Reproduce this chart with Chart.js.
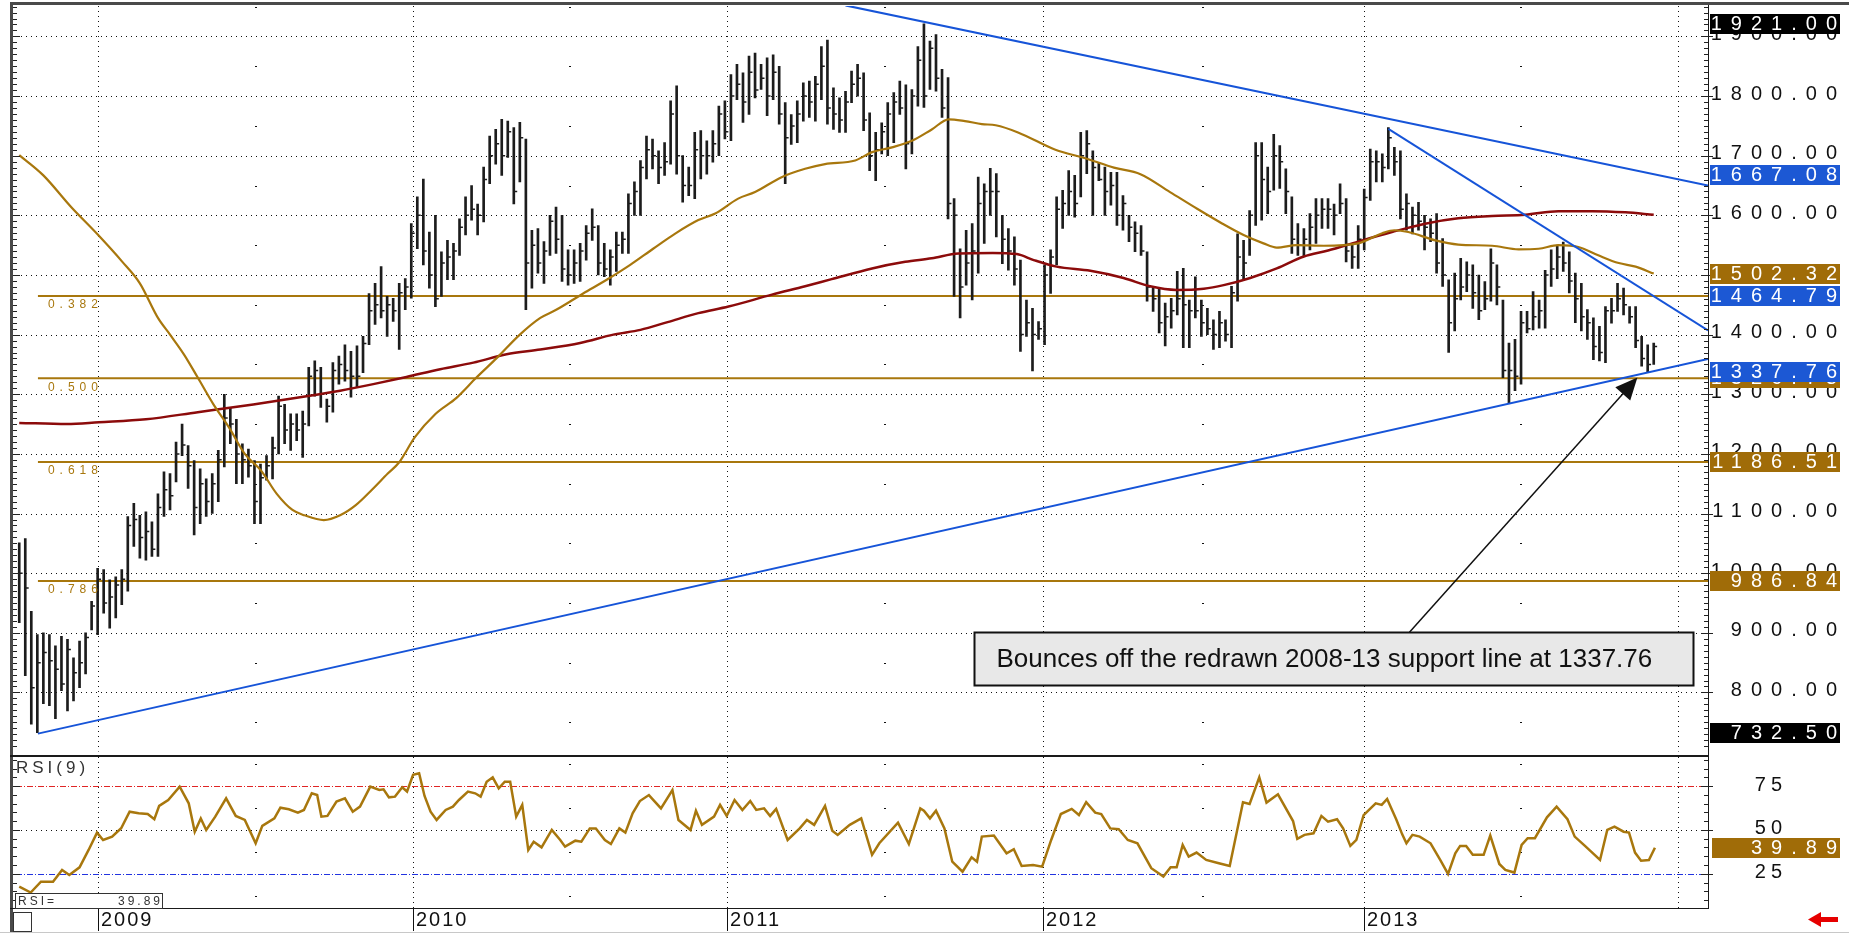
<!DOCTYPE html>
<html>
<head>
<meta charset="utf-8">
<title>Gold weekly</title>
<script src="https://cdn.jsdelivr.net/npm/chart.js@4.4.0/dist/chart.umd.min.js"></script>
<style>
html, body { margin: 0; padding: 0; background: #fff; }
#wrap { position: relative; width: 1849px; height: 935px; overflow: hidden; background: #fff; }
#main { position: absolute; left: 0; top: 0; }
#rsi { position: absolute; left: 0; top: 757px; }
</style>
</head>
<body>
<div id="wrap">
  <canvas id="main" width="1849" height="757"></canvas>
  <canvas id="rsi" width="1849" height="178"></canvas>
</div>
<script>
// weekly bars, index 0 = first week on the chart
const highs = [
  1051,1058,936,897,900,897,878,894,889,858,
  886,900,953,1008,1006,989,994,1006,1095,1117,
  1097,1103,1086,1133,1170,1167,1220,1250,1214,1189,
  1175,1158,1167,1206,1300,1278,1258,1217,1208,1189,
  1183,1197,1228,1297,1283,1267,1267,1272,1345,1356,
  1345,1292,1353,1364,1383,1372,1381,1397,1469,1486,
  1514,1464,1461,1486,1494,1586,1631,1661,1572,1600,
  1539,1558,1553,1594,1631,1650,1619,1681,1733,1744,
  1761,1758,1747,1756,1728,1575,1578,1556,1600,1614,
  1600,1542,1542,1553,1583,1611,1583,1553,1542,1572,
  1572,1636,1656,1692,1733,1728,1708,1722,1792,1817,
  1700,1681,1739,1742,1725,1742,1783,1792,1836,1853,
  1839,1867,1872,1853,1864,1869,1850,1789,1769,1792,
  1822,1825,1833,1883,1894,1814,1797,1808,1842,1853,
  1839,1772,1739,1755,1789,1806,1825,1819,1811,1883,
  1921,1892,1903,1845,1831,1628,1544,1575,1586,1664,
  1653,1679,1670,1600,1578,1564,1525,1458,1444,1422,
  1517,1542,1631,1642,1675,1667,1739,1742,1708,1689,
  1681,1672,1672,1633,1600,1589,1583,1539,1481,1478,
  1453,1461,1506,1511,1458,1497,1458,1444,1425,1439,
  1425,1481,1569,1558,1608,1722,1722,1681,1736,1717,
  1678,1631,1586,1578,1603,1628,1628,1628,1619,1653,
  1628,1553,1583,1644,1711,1708,1703,1747,1714,1708,
  1636,1614,1622,1600,1594,1603,1561,1492,1503,1528,
  1522,1517,1500,1489,1544,1517,1458,1386,1392,1439,
  1439,1472,1458,1508,1542,1550,1555,1539,1503,1486,
  1442,1428,1414,1447,1461,1486,1478,1447,1447,1397,
  1383,1386
];
const lows = [
  917,828,747,732.5,781,778,756,803,769,786,
  808,831,905,897,933,908,925,947,970,1045,
  1025,1022,1028,1028,1095,1106,1153,1197,1142,1064,
  1083,1095,1100,1120,1178,1217,1150,1150,1161,1083,
  1083,1156,1158,1200,1217,1206,1222,1194,1247,1297,
  1278,1253,1270,1317,1322,1295,1311,1336,1383,1417,
  1428,1397,1422,1375,1442,1461,1544,1517,1478,1447,
  1464,1492,1492,1533,1567,1592,1567,1589,1653,1686,
  1667,1697,1619,1656,1442,1478,1503,1486,1533,1536,
  1489,1483,1486,1489,1525,1558,1500,1497,1483,1506,
  1536,1536,1600,1600,1661,1678,1653,1667,1686,1669,
  1622,1633,1628,1661,1669,1689,1700,1728,1725,1794,
  1756,1769,1797,1811,1767,1794,1753,1653,1719,1722,
  1758,1764,1758,1794,1753,1744,1739,1739,1789,1800,
  1742,1675,1658,1703,1700,1722,1769,1678,1703,1783,
  1781,1811,1808,1764,1594,1464,1428,1483,1458,1503,
  1553,1600,1564,1519,1508,1483,1372,1397,1339,1392,
  1383,1469,1517,1578,1600,1597,1631,1670,1600,1658,
  1600,1617,1583,1575,1556,1539,1533,1456,1439,1403,
  1381,1411,1433,1378,1378,1428,1397,1400,1375,1378,
  1389,1378,1456,1492,1533,1583,1592,1603,1642,1645,
  1603,1536,1533,1531,1542,1553,1578,1578,1567,1603,
  1522,1511,1511,1542,1625,1656,1656,1678,1667,1594,
  1575,1569,1575,1542,1556,1503,1481,1370,1406,1458,
  1472,1444,1425,1442,1456,1450,1328,1286,1306,1317,
  1403,1408,1411,1411,1481,1494,1506,1470,1420,1406,
  1392,1358,1356,1353,1419,1439,1433,1419,1378,1347,
  1336,1350
];
const closes = [
  1000,975,808,850,867,853,839,814,872,833,
  850,892,945,990,950,960,980,990,1080,1090,
  1060,1070,1040,1110,1140,1130,1200,1215,1180,1110,
  1150,1120,1150,1190,1260,1250,1200,1190,1180,1120,
  1160,1180,1210,1280,1240,1250,1240,1250,1330,1340,
  1300,1280,1340,1350,1340,1330,1330,1385,1440,1450,
  1440,1450,1440,1470,1480,1570,1600,1540,1500,1460,
  1520,1530,1540,1580,1600,1610,1600,1660,1700,1720,
  1700,1740,1640,1730,1520,1550,1520,1540,1590,1560,
  1510,1500,1520,1540,1570,1580,1520,1510,1530,1550,
  1560,1620,1640,1680,1710,1700,1680,1690,1770,1700,
  1650,1650,1710,1700,1700,1720,1770,1740,1800,1820,
  1790,1840,1810,1830,1800,1840,1770,1730,1750,1770,
  1800,1790,1820,1850,1780,1770,1760,1790,1820,1830,
  1760,1700,1710,1740,1770,1790,1780,1720,1800,1860,
  1800,1880,1830,1780,1620,1600,1480,1520,1540,1620,
  1640,1640,1640,1560,1540,1510,1400,1420,1400,1410,
  1500,1530,1610,1620,1640,1620,1700,1720,1680,1660,
  1640,1650,1600,1620,1580,1570,1540,1480,1460,1420,
  1430,1440,1460,1450,1440,1440,1420,1410,1400,1420,
  1400,1470,1530,1520,1600,1700,1660,1640,1700,1690,
  1640,1560,1550,1560,1580,1600,1610,1610,1600,1620,
  1540,1530,1560,1630,1690,1690,1680,1730,1690,1610,
  1620,1600,1590,1580,1570,1520,1500,1420,1460,1480,
  1500,1470,1440,1460,1520,1480,1340,1340,1330,1420,
  1410,1430,1440,1500,1510,1530,1520,1490,1460,1430,
  1420,1380,1370,1440,1440,1460,1450,1430,1390,1360,
  1350,1380
];

// moving averages (week index, value)
const goldWeeks = [0,4,8.6,12.9,17.1,20,23,25,27.3,29.6,32.2,34.8,37.4,40.1,42.7,45.3,47.3,50.5,53.2,55.8,
  58.4,61.1,63,65.6,69,72.5,75.8,79.2,83,86.4,89.1,93.5,97.4,101.3,105.1,108.7,112.6,115.4,119.2,122,
  126.4,130.3,133.6,138.6,141.4,144.7,148,151.3,154.1,156.8,159.6,161.9,165.6,171.8,177,181.5,185.9,190.8,195.3,199.5,
  203,206.3,208.5,211.8,216.3,222,226,228,230.3,234.8,238.6,244.2,248.6,251.9,255.2,258.5,261.8,265.2,268,271];
const goldValues = [1701,1667,1614,1569,1522,1486,1428,1400,1367,1328,1283,1244,1200,1172,1133,1106,1097,1089,1097,1114,
  1139,1167,1186,1228,1267,1294,1328,1361,1400,1428,1442,1469,1492,1517,1544,1569,1592,1603,1628,1639,
  1664,1678,1686,1692,1706,1714,1725,1744,1761,1758,1753,1751,1739,1710,1695,1680,1669,1639,1611,1586,
  1567,1553,1546,1550,1549,1553,1570,1575,1572,1558,1551,1549,1543,1544,1550,1547,1533,1520,1514,1502.32];
const redWeeks = [0,7.9,13.2,21,29.6,38.8,47.9,53.2,58.7,64.2,69.8,75.3,80.8,86.4,93,98.5,103,107.5,112.6,117.6,
  124.8,130.3,134.7,141.4,146.9,151.3,155.7,161.4,165.4,168.2,172,177.6,183.1,187.5,191.9,196.4,199.7,204.1,208.5,213,
  217,222,227.6,233.1,238.6,244.2,249.7,255.2,260.8,266.3,271];
const redValues = [1252,1250,1253,1258,1270,1283,1297,1306,1317,1329,1342,1353,1367,1375,1386,1400,1408,1421,1436,1447,
  1467,1481,1493,1511,1522,1528,1536,1537,1535,1525,1514,1507,1495,1481,1475,1477,1483,1495,1511,1531,
  1541,1556,1572,1586,1595,1599,1601,1607,1607,1605,1601];

// RSI(9)
const rsiWeeks = [0,1.9,3.6,5.6,7.1,8.3,10,11.5,12.9,13.9,15.4,16.9,18.3,19.8,21.3,22.4,23.2,24.7,26.6,28.1,
  29.1,30.1,31,32.5,34.3,35.9,37.4,39.2,40.3,42.3,43.3,44.7,46.2,47.2,48.5,49.4,50.1,51.1,52.6,54,
  55.3,56.5,58.2,59.7,60.4,61.3,62.3,63.5,64.3,65.3,66.3,67.2,68.2,69.2,70.7,71.9,72.9,74.4,75.6,76.5,
  77.5,78.5,79.5,80.5,81.4,82.4,83.4,84.4,85.3,86.6,88.3,89.7,90.5,92.2,93.2,94.6,95.6,97.1,98.1,99.5,
  100.5,101.7,102.9,104.4,106.4,108.3,109.3,111.3,112.2,113.2,115.2,116.2,117.3,118.6,119.9,121.2,122.2,123.5,124.5,125.5,
  127.4,129.4,130.6,131.8,133.6,134.8,135.7,137.7,139.6,141.4,142.6,145.7,147.5,149.4,
  150,151,152,153.4,154.7,156.4,157.9,158.8,159.6,161.6,163.7,164.9,166.2,168.1,169.6,171.1,172.7,174.5,175.7,176.9,
  178.4,179.4,180.9,182.3,183.8,185.4,187.7,189.7,190.9,191.9,192.9,193.9,195.2,196.8,198.9,200.7,202.9,204,205.6,206.8,
  208.7,211.2,211.9,213.1,214.6,215.9,217,218.5,219.5,220.7,221.7,222.9,224.9,225.9,226.8,228.3,229.3,230,231,232.2,
  234,235.6,236.9,238.1,238.9,239.9,241,242.8,243.9,245.4,246.4,247.9,249.1,250.1,251.3,253.3,254.9,256.7,257.9,259.6,
  262.1,263.3,264.5,266,266.9,267.9,268.9,270.2,271.2];
const rsiValues = [17.7,14.3,20.5,20.5,27.2,24.3,28.7,38.6,48.5,44.3,46.2,51,60.4,59.5,59.1,56.1,63.7,67.1,74.7,65.2,
  49,56.6,50,57.6,68,58,55.7,42.4,52.3,56.6,62.7,61.8,59.9,61.4,70.9,69.9,57.6,58,66.2,68,
  60.4,63.3,74.7,72.8,73.2,68.6,69,74.3,71.9,81.4,82.3,69.4,60.4,55.7,61.4,63.3,67.1,71.9,70.9,69,
  77.5,80,73.7,77.5,77.5,57.6,64.3,38.6,43.3,40.1,50,44.3,40.5,43.9,43.3,50.9,50.9,44.3,42,50.9,
  48.5,59.5,66.5,69.9,62.3,72.8,55.7,50,61,52.9,57.6,64.3,58,67.1,61.4,66.5,61.4,62.3,58,62,
  44.3,50.9,55.7,52.9,63.7,49.6,47.2,52.9,56.6,35.8,42.4,54.2,42,62.3,
  61,56.6,61,50.9,31.9,26.2,34.4,31.9,46.2,46.8,36.7,39,29.5,30,29.1,44.3,59.1,62,58.5,65.8,
  59.9,59.1,50.9,50.4,44.3,42.4,28.2,23.4,28.7,28.7,41.5,34.8,37.1,32.9,31,29.5,65.8,64.8,80,65.6,
  70.3,55.1,44.9,47.2,48.1,58,54.7,56.1,50.9,40.9,44.3,58.5,65.2,64.3,67.7,56.1,47.5,42.4,47.2,46.2,
  42.4,32.9,24.9,36.7,40.9,40.9,35.8,35.8,46.8,30.6,27.2,25.7,41.5,45.3,45.3,57.2,63.3,56.1,46.2,40.9,
  32.9,50,51.9,49,48.5,37.1,32.5,32.9,39.89];

// trend lines: [week, price] end points
const upperLine = [[137, 1952], [280, 1650]];
const downLine = [[227, 1745], [280, 1407]];
const supportLine = [[3.1, 731], [280, 1359]];

// fibonacci retracements of the 732.50 -> 1921.00 move
const fibStart = 3.1;
const fibLevels = [1464.79, 1326.75, 1186.51, 986.84];
const fibRatios = ['0.382', '0.500', '0.618', '0.786'];

// axes
const priceTicks = [800, 900, 1000, 1100, 1200, 1300, 1400, 1500, 1600, 1700, 1800, 1900];
const yearTicks = [13.05, 65.3, 117.4, 169.7, 222.9, 275.1];
const yearLabels = ['2009', '2010', '2011', '2012', '2013', ''];
const rsiTicks = [25, 50, 75];

// value tags on the price axis
const tagValues = [1921.00, 1667.08, 1502.32, 1464.79, 1326.75, 1337.76, 1186.51, 986.84, 732.50];
const tagColors = ['#000000', '#1c58d4', '#a06c08', '#1c58d4', '#a06c08', '#1c58d4', '#a06c08', '#a06c08', '#000000'];
const rsiLast = 39.89;

// callout
const noteText = 'Bounces off the redrawn 2008-13 support line at 1337.76';
const noteBox = [158.3, 277.5, 901, 812.3];   // week from, week to, price top, price bottom
const noteArrow = [[230.5, 901], [268.3, 1328]];

const GOLD = '#a8770d';
const DARKRED = '#8c0b0b';
const BLUE = '#1654d8';
const BAR = '#1c1c1c';
const FONT = '"Liberation Sans", Arial, sans-serif';

function spaced(ctx, text, x, y, sp, align) {
  ctx.letterSpacing = sp + 'px';
  ctx.textAlign = align;
  ctx.fillText(text, align === 'right' ? x + sp : x, y);
  ctx.letterSpacing = '0px';
}

function linePts(pairs) {
  return pairs.map(p => ({x: p[0], y: p[1]}));
}

const mainDeco = {
  id: 'mainDeco',
  beforeDatasetsDraw(chart) {
    const {ctx, chartArea: a, scales: {x, y}} = chart;
    ctx.save();
    ctx.strokeStyle = '#111';
    ctx.lineWidth = 1;
    ctx.setLineDash([1, 4]);
    priceTicks.forEach(p => {
      const py = Math.round(y.getPixelForValue(p)) + 0.5;
      ctx.beginPath(); ctx.moveTo(a.left + 4, py); ctx.lineTo(a.right, py); ctx.stroke();
    });
    yearTicks.forEach(w => {
      const px = Math.round(x.getPixelForValue(w)) + 0.5;
      ctx.beginPath(); ctx.moveTo(px, a.top); ctx.lineTo(px, a.bottom); ctx.stroke();
    });
    ctx.setLineDash([]);
    ctx.fillStyle = '#111';
    for (let k = 0; k < yearTicks.length - 1; k++) {
      const px = Math.round(x.getPixelForValue((yearTicks[k] + yearTicks[k + 1]) / 2));
      for (let p = 750; p < 1951; p += 100) {
        ctx.fillRect(px - 1, Math.round(y.getPixelForValue(p)), 2, 1);
      }
    }
    ctx.restore();
  },
  afterDraw(chart) {
    const {ctx, chartArea: a, scales: {x, y}} = chart;
    ctx.save();

    // fib ratio labels
    ctx.font = '12px ' + FONT;
    ctx.fillStyle = GOLD;
    ctx.textBaseline = 'top';
    fibLevels.forEach((v, k) => {
      spaced(ctx, fibRatios[k], x.getPixelForValue(fibStart) + 10, y.getPixelForValue(v) + 3, 5, 'left');
    });

    // callout box
    const bx0 = Math.round(x.getPixelForValue(noteBox[0])) + 0.5;
    const bx1 = Math.round(x.getPixelForValue(noteBox[1])) + 0.5;
    const by0 = Math.round(y.getPixelForValue(noteBox[2])) + 0.5;
    const by1 = Math.round(y.getPixelForValue(noteBox[3])) + 0.5;
    ctx.fillStyle = '#e8e8e8';
    ctx.fillRect(bx0, by0, bx1 - bx0, by1 - by0);
    ctx.strokeStyle = '#111';
    ctx.lineWidth = 2;
    ctx.strokeRect(bx0, by0, bx1 - bx0, by1 - by0);
    ctx.fillStyle = '#111';
    ctx.font = '26px ' + FONT;
    ctx.textBaseline = 'middle';
    ctx.textAlign = 'left';
    ctx.fillText(noteText, bx0 + 22, (by0 + by1) / 2 + 1);

    // arrow
    const tx = x.getPixelForValue(noteArrow[0][0]), ty = y.getPixelForValue(noteArrow[0][1]);
    const hx = x.getPixelForValue(noteArrow[1][0]), hy = y.getPixelForValue(noteArrow[1][1]);
    const len = Math.hypot(hx - tx, hy - ty);
    const ux = (hx - tx) / len, uy = (hy - ty) / len;
    ctx.lineWidth = 1.5;
    ctx.beginPath(); ctx.moveTo(tx, ty); ctx.lineTo(hx - ux * 12, hy - uy * 12); ctx.stroke();
    ctx.beginPath();
    ctx.moveTo(hx, hy);
    ctx.lineTo(hx - ux * 22 + uy * 10, hy - uy * 22 - ux * 10);
    ctx.lineTo(hx - ux * 22 - uy * 10, hy - uy * 22 + ux * 10);
    ctx.closePath();
    ctx.fill();

    // frame
    ctx.fillStyle = '#4a4a4a';
    ctx.fillRect(10, 2, 1839, 3);
    ctx.fillRect(10, 2, 3, 755);
    ctx.fillStyle = '#1a1a1a';
    ctx.fillRect(a.right, 5, 1, 751);
    ctx.fillRect(10, 755, a.right - 9, 2);

    // tick marks on both sides
    ctx.fillStyle = '#222';
    for (let p = 710; p <= 1950; p += 10) {
      const py = Math.round(y.getPixelForValue(p));
      const major = p % 100 === 0;
      ctx.fillRect(13, py, major ? 7 : 4, 1);
      ctx.fillRect(a.right - (major ? 7 : 4), py, major ? 12 : 4, 1);
    }

    // price labels
    ctx.font = '20px ' + FONT;
    ctx.fillStyle = '#111';
    ctx.textBaseline = 'middle';
    priceTicks.forEach(p => {
      spaced(ctx, p.toFixed(2), 1837, y.getPixelForValue(p) - 2, 9, 'right');
    });

    // value tags
    tagValues.forEach((v, k) => {
      const py = y.getPixelForValue(v);
      ctx.fillStyle = tagColors[k];
      ctx.fillRect(1710, Math.round(py - 10), 130, 20);
      ctx.fillStyle = '#fff';
      spaced(ctx, v.toFixed(2), 1837, py + 0.5, 9, 'right');
    });
    ctx.restore();
  }
};

const rsiDeco = {
  id: 'rsiDeco',
  beforeDatasetsDraw(chart) {
    const {ctx, chartArea: a, scales: {x, y}} = chart;
    ctx.save();
    ctx.lineWidth = 1;
    ctx.strokeStyle = '#111';
    ctx.setLineDash([1, 4]);
    yearTicks.forEach(w => {
      const px = Math.round(x.getPixelForValue(w)) + 0.5;
      ctx.beginPath(); ctx.moveTo(px, a.top); ctx.lineTo(px, a.bottom); ctx.stroke();
    });
    let py = Math.round(y.getPixelForValue(50)) + 0.5;
    ctx.beginPath(); ctx.moveTo(a.left + 4, py); ctx.lineTo(a.right, py); ctx.stroke();
    ctx.setLineDash([6, 2, 1, 2]);
    ctx.strokeStyle = '#e02525';
    py = Math.round(y.getPixelForValue(75)) + 0.5;
    ctx.beginPath(); ctx.moveTo(a.left + 4, py); ctx.lineTo(a.right, py); ctx.stroke();
    ctx.strokeStyle = '#2233e0';
    py = Math.round(y.getPixelForValue(25)) + 0.5;
    ctx.beginPath(); ctx.moveTo(a.left + 4, py); ctx.lineTo(a.right, py); ctx.stroke();
    ctx.setLineDash([]);
    ctx.fillStyle = '#111';
    for (let k = 0; k < yearTicks.length - 1; k++) {
      const px = Math.round(x.getPixelForValue((yearTicks[k] + yearTicks[k + 1]) / 2));
      [12.5, 37.5, 62.5, 87.5].forEach(v => ctx.fillRect(px - 1, Math.round(y.getPixelForValue(v)), 2, 1));
    }
    ctx.restore();
  },
  afterDraw(chart) {
    const {ctx, chartArea: a, scales: {x, y}} = chart;
    ctx.save();
    ctx.fillStyle = '#4a4a4a';
    ctx.fillRect(10, 0, 3, 176);
    ctx.fillStyle = '#1a1a1a';
    ctx.fillRect(a.right, 0, 1, a.bottom);
    ctx.fillRect(10, a.bottom, a.right - 9, 1);

    ctx.fillStyle = '#222';
    for (let v = 10; v <= 90; v += 5) {
      const py = Math.round(y.getPixelForValue(v));
      const major = v % 25 === 0;
      ctx.fillRect(13, py, major ? 7 : 4, 1);
      ctx.fillRect(a.right - (major ? 7 : 4), py, major ? 12 : 4, 1);
    }

    ctx.font = '20px ' + FONT;
    ctx.fillStyle = '#111';
    ctx.textBaseline = 'middle';
    rsiTicks.forEach(v => spaced(ctx, String(v), 1782, y.getPixelForValue(v) - 1, 5, 'right'));

    let py = y.getPixelForValue(rsiLast);
    ctx.fillStyle = '#a06c08';
    ctx.fillRect(1712, Math.round(py - 10), 128, 20);
    ctx.fillStyle = '#fff';
    spaced(ctx, rsiLast.toFixed(2), 1837, py + 0.5, 9, 'right');

    // panel captions
    ctx.fillStyle = '#333';
    ctx.font = '17px ' + FONT;
    ctx.textBaseline = 'top';
    spaced(ctx, 'RSI(9)', 16, 3, 4, 'left');
    ctx.fillStyle = '#fff';
    ctx.fillRect(15, 136, 148, 15);
    ctx.strokeStyle = '#333';
    ctx.lineWidth = 1;
    ctx.strokeRect(15.5, 136.5, 147, 15);
    ctx.fillStyle = '#333';
    ctx.font = '12px ' + FONT;
    ctx.textBaseline = 'middle';
    spaced(ctx, 'RSI=', 18, 144.5, 3, 'left');
    spaced(ctx, rsiLast.toFixed(2), 160, 144.5, 3, 'right');

    // date row
    ctx.fillStyle = '#111';
    ctx.font = '20px ' + FONT;
    ctx.textBaseline = 'alphabetic';
    yearTicks.forEach((w, k) => {
      if (!yearLabels[k]) return;
      const px = Math.round(x.getPixelForValue(w));
      ctx.fillRect(px, a.bottom + 1, 1, 22);
      spaced(ctx, yearLabels[k], px + 3, a.bottom + 18, 2, 'left');
    });
    ctx.strokeStyle = '#333';
    ctx.strokeRect(13.5, a.bottom + 4.5, 18, 19);
    ctx.fillStyle = '#c8c8c8';
    ctx.fillRect(0, 175, 1849, 1);

    // scroll arrow
    ctx.fillStyle = '#e60000';
    ctx.fillRect(1820, 160, 18, 5);
    ctx.beginPath();
    ctx.moveTo(1808, 162.5); ctx.lineTo(1821, 155); ctx.lineTo(1821, 170); ctx.closePath();
    ctx.fill();
    ctx.restore();
  }
};

const mainChart = new Chart(document.getElementById('main'), {
  type: 'line',
  data: {
    datasets: [
      {
        type: 'bar',
        data: highs.map((h, i) => ({x: i, y: [lows[i], h]})),
        backgroundColor: BAR,
        barThickness: 2,
        borderWidth: 0,
        order: 4
      },
      {
        type: 'line',
        data: closes.map((c, i) => ({x: i + 0.3, y: c})),
        showLine: false,
        pointStyle: 'line',
        pointRadius: 1.6,
        pointBorderWidth: 1.5,
        pointBorderColor: BAR,
        order: 4
      },
      ...fibLevels.map(v => ({
        type: 'line',
        data: [{x: fibStart, y: v}, {x: 280, y: v}],
        borderColor: GOLD,
        borderWidth: 2,
        pointRadius: 0,
        order: 5
      })),
      {
        type: 'line',
        data: goldWeeks.map((w, k) => ({x: w, y: goldValues[k]})),
        borderColor: GOLD,
        borderWidth: 2.2,
        pointRadius: 0,
        cubicInterpolationMode: 'monotone',
        order: 3
      },
      {
        type: 'line',
        data: redWeeks.map((w, k) => ({x: w, y: redValues[k]})),
        borderColor: DARKRED,
        borderWidth: 2.5,
        pointRadius: 0,
        cubicInterpolationMode: 'monotone',
        order: 3
      },
      ...[upperLine, downLine, supportLine].map(l => ({
        type: 'line',
        data: linePts(l),
        borderColor: BLUE,
        borderWidth: 2,
        pointRadius: 0,
        order: 1
      }))
    ]
  },
  options: {
    responsive: false,
    animation: false,
    events: [],
    layout: {padding: {left: 12, right: 141, top: 6, bottom: 1}},
    plugins: {legend: {display: false}, tooltip: {enabled: false}},
    scales: {
      x: {type: 'linear', min: -1.2, max: 280, offset: false, display: false},
      y: {type: 'linear', min: 701, max: 1951, display: false}
    }
  },
  plugins: [mainDeco]
});

const rsiChart = new Chart(document.getElementById('rsi'), {
  type: 'line',
  data: {
    datasets: [{
      data: rsiWeeks.map((w, k) => ({x: w, y: rsiValues[k]})),
      borderColor: GOLD,
      borderWidth: 2.5,
      pointRadius: 0,
      tension: 0
    }]
  },
  options: {
    responsive: false,
    animation: false,
    events: [],
    layout: {padding: {left: 12, right: 141, top: 0, bottom: 27}},
    plugins: {legend: {display: false}, tooltip: {enabled: false}},
    scales: {
      x: {type: 'linear', min: -1.2, max: 280, display: false},
      y: {type: 'linear', min: 5.5, max: 91.6, display: false}
    }
  },
  plugins: [rsiDeco]
});
</script>
</body>
</html>
